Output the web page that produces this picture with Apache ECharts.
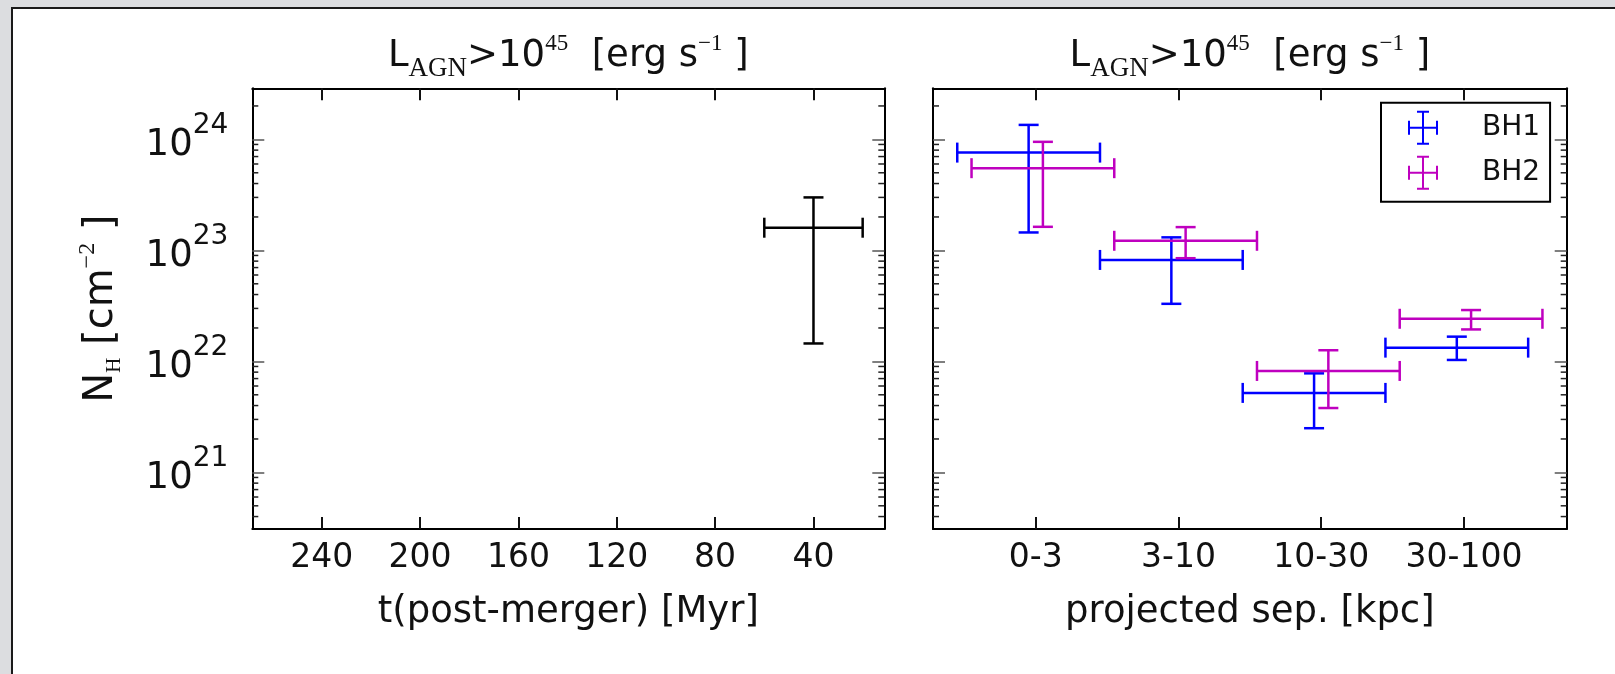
<!DOCTYPE html>
<html>
<head>
<meta charset="utf-8">
<script src="https://cdn.jsdelivr.net/npm/echarts@6/dist/echarts.min.js"></script>
<style>
html, body { margin: 0; padding: 0; background: #dcdde0; }
#chart { width: 1615px; height: 674px; }
</style>
</head>
<body>
<div id="chart"></div>
<script>
// ---------------- data ----------------
const sepCategories = ['0-3', '3-10', '10-30', '30-100'];
const sepTickPositions = [0, 1, 2, 3];
const timeTicks = [40, 80, 120, 160, 200, 240];
const nhMajorTicks = [1e21, 1e22, 1e23, 1e24];
const nhMinorTicks = [
  4e20, 5e20, 6e20, 7e20, 8e20, 9e20,
  2e21, 3e21, 4e21, 5e21, 6e21, 7e21, 8e21, 9e21,
  2e22, 3e22, 4e22, 5e22, 6e22, 7e22, 8e22, 9e22,
  2e23, 3e23, 4e23, 5e23, 6e23, 7e23, 8e23, 9e23,
  2e24
];

// left panel (time after merger)
const allT = [40];
const allTErr = [20];
const allNH = [1.6e23];
const allNHLow = [1.45e22];
const allNHHigh = [3.0e23];

// right panel (projected separation bins)
const bh1X = [-0.05, 0.95, 1.95, 2.95];
const bh1XErr = [0.5, 0.5, 0.5, 0.5];
const bh1NH = [7.6e23, 8.2e22, 5.2e21, 1.33e22];
const bh1NHLow = [1.45e23, 3.3e22, 2.5e21, 1.03e22];
const bh1NHHigh = [1.35e24, 1.31e23, 7.8e21, 1.67e22];

const bh2X = [0.05, 1.05, 2.05, 3.05];
const bh2XErr = [0.5, 0.5, 0.5, 0.5];
const bh2NH = [5.5e23, 1.22e23, 8.2e21, 2.42e22];
const bh2NHLow = [1.63e23, 8.5e22, 3.8e21, 1.94e22];
const bh2NHHigh = [9.5e23, 1.62e23, 1.26e22, 2.9e22];

// axis ranges
const tMin = 11.2, tMax = 268.2;
const sepMin = -0.72, sepMax = 3.72;
const nhMin = Math.pow(10, 20.49), nhMax = Math.pow(10, 24.46);

// ---------------- styling ----------------
const SANS = 'DejaVu Sans';
const SERIF = 'Liberation Serif';
const TXT = '#111';
const C_BH1 = '#0000ff';
const C_BH2 = '#bf00bf';
const C_ALL = '#000000';

function rows(x, xerr, y, ylo, yhi) {
  return x.map((v, i) => [v, y[i], v - xerr[i], v + xerr[i], ylo[i], yhi[i]]);
}

function errorBarRenderer(color) {
  return function (params, api) {
    const x = api.value(0), y = api.value(1);
    const xl = api.value(2), xh = api.value(3), yl = api.value(4), yh = api.value(5);
    const c = api.coord([x, y]);
    const pL = api.coord([xl, y]);
    const pR = api.coord([xh, y]);
    const pT = api.coord([x, yh]);
    const pB = api.coord([x, yl]);
    const cap = 10;
    const ln = (x1, y1, x2, y2) => ({
      type: 'line', shape: { x1, y1, x2, y2 },
      style: { stroke: color, lineWidth: 2.5, fill: null }
    });
    return {
      type: 'group',
      children: [
        ln(pL[0], c[1], pR[0], c[1]),
        ln(pL[0], c[1] - cap, pL[0], c[1] + cap),
        ln(pR[0], c[1] - cap, pR[0], c[1] + cap),
        ln(c[0], pT[1], c[0], pB[1]),
        ln(c[0] - cap, pT[1], c[0] + cap, pT[1]),
        ln(c[0] - cap, pB[1], c[0] + cap, pB[1])
      ]
    };
  };
}

function minorTickRenderer(params, api) {
  const cs = params.coordSys;
  const y = api.coord([api.value(0), api.value(1)])[1];
  const len = 6;
  const st = () => ({ stroke: '#222', lineWidth: 1.5 });
  return {
    type: 'group',
    children: [
      { type: 'line', shape: { x1: cs.x, y1: y, x2: cs.x + len, y2: y }, style: st() },
      { type: 'line', shape: { x1: cs.x + cs.width - len, y1: y, x2: cs.x + cs.width, y2: y }, style: st() }
    ]
  };
}

const axisLineStyle = { onZero: false, lineStyle: { color: '#000', width: 2 } };

function xAxisCfg(grid, pos, min, max, inverse, ticks, labels, name, formatter) {
  return {
    type: 'value', gridIndex: grid, position: pos, min, max, inverse,
    splitLine: { show: false },
    axisLine: axisLineStyle,
    axisTick: { show: true, inside: true, length: 12, customValues: ticks, lineStyle: { color: '#111', width: 2 } },
    axisLabel: labels ? {
      show: true, customValues: ticks, formatter, margin: 13,
      fontSize: 33, lineHeight: 33, fontFamily: SANS, color: TXT
    } : { show: false },
    name: name || '', nameLocation: 'middle', nameGap: 65,
    nameTextStyle: { fontSize: 37, lineHeight: 37, fontFamily: SANS, color: TXT }
  };
}

function yAxisCfg(grid, pos, labels, withName) {
  const cfg = {
    type: 'log', logBase: 10, gridIndex: grid, position: pos, min: nhMin, max: nhMax,
    splitLine: { show: false },
    axisLine: axisLineStyle,
    axisTick: { show: true, inside: true, length: 12, customValues: nhMajorTicks, lineStyle: { color: '#555', width: 1.5 } },
    axisLabel: labels ? {
      show: true, customValues: nhMajorTicks, margin: 24, interval: 0, hideOverlap: false,
      formatter: function (v) {
        const lg = Math.log10(v);
        const e = Math.round(lg);
        if (Math.abs(lg - e) > 1e-6) return '';
        return '{b|10}{s|' + e + '}';
      },
      rich: {
        b: { fontSize: 37, lineHeight: 37, fontFamily: SANS, color: TXT, verticalAlign: 'middle', padding: [12, 0, 0, 0] },
        s: { fontSize: 28, lineHeight: 28, fontFamily: SANS, color: TXT, verticalAlign: 'middle', padding: [0, 0, 28, 0] }
      }
    } : { show: false }
  };
  if (withName) {
    cfg.name = '{m|N}{sub|H}{m| [cm}{sup|\u22122}{m| ]}';
    cfg.nameLocation = 'middle';
    cfg.nameRotate = 90;
    cfg.nameGap = 131;
    cfg.nameTextStyle = {
      rich: {
        m: { fontSize: 40, lineHeight: 40, fontFamily: SANS, color: TXT, verticalAlign: 'middle' },
        sub: { fontSize: 21, lineHeight: 21, fontFamily: SERIF, color: TXT, verticalAlign: 'middle', padding: [26, 0, 0, 0] },
        sup: { fontSize: 24, lineHeight: 24, fontFamily: SERIF, color: TXT, verticalAlign: 'middle', padding: [0, 0, 28, 0] }
      }
    };
  }
  return cfg;
}

const titleRich = {
  m: { fontSize: 37, lineHeight: 37, fontFamily: SANS, fontWeight: 'normal', color: TXT, verticalAlign: 'middle' },
  sub: { fontSize: 27, lineHeight: 27, fontFamily: SERIF, fontWeight: 'normal', color: TXT, verticalAlign: 'middle', padding: [24, 0, 0, 0] },
  sup: { fontSize: 23, lineHeight: 23, fontFamily: SERIF, fontWeight: 'normal', color: TXT, verticalAlign: 'middle', padding: [0, 0, 26, 0] }
};
const titleText = '{m|L}{sub|AGN}{m|>10}{sup|45}{m|  [erg s}{sup|\u22121}{m| ]}';

const errIcon = 'path://M0,16h30v2h-30z M0,10h2v14h-2z M28,10h2v14h-2z M14,0h2v34h-2z M9,0h12v2h-12z M9,32h12v2h-12z';

const sepFormatter = v => sepCategories[sepTickPositions.indexOf(Math.round(v))] || '';

const option = {
  backgroundColor: '#dcdde0',
  animation: false,
  graphic: [{
    type: 'rect', z: -100, silent: true,
    shape: { x: 12, y: 8, width: 1700, height: 800 },
    style: { fill: '#ffffff', stroke: '#1a1a1a', lineWidth: 2 }
  }],
  title: [
    { text: titleText, left: 568.3, top: 38, textAlign: 'center', padding: 0, textStyle: { fontWeight: 'normal', rich: titleRich } },
    { text: titleText, left: 1249.9, top: 38, textAlign: 'center', padding: 0, textStyle: { fontWeight: 'normal', rich: titleRich } }
  ],
  legend: {
    orient: 'vertical', left: 1381, top: 102.7,
    padding: [8, 10, 12, 27], itemWidth: 30, itemHeight: 34, itemGap: 11,
    borderColor: '#000', borderWidth: 2, backgroundColor: '#fff',
    selectedMode: false,
    data: [{ name: 'BH1', icon: errIcon }, { name: 'BH2', icon: errIcon }],
    itemStyle: { borderWidth: 0 },
    formatter: '{t|{name}}',
    textStyle: { rich: { t: { fontSize: 28, lineHeight: 34, fontFamily: SANS, color: TXT, padding: [0, 0, 0, 39] } } }
  },
  grid: [
    { left: 252.3, top: 88.3, width: 632, height: 440.7, containLabel: false },
    { left: 933, top: 88.3, width: 633.7, height: 440.7, containLabel: false }
  ],
  xAxis: [
    xAxisCfg(0, 'bottom', tMin, tMax, true, timeTicks, true, 't(post-merger) [Myr]', v => String(v)),
    xAxisCfg(0, 'top', tMin, tMax, true, timeTicks, false),
    xAxisCfg(1, 'bottom', sepMin, sepMax, false, sepTickPositions, true, 'projected sep. [kpc]', sepFormatter),
    xAxisCfg(1, 'top', sepMin, sepMax, false, sepTickPositions, false)
  ],
  yAxis: [
    yAxisCfg(0, 'left', true, true),
    yAxisCfg(0, 'right', false, false),
    yAxisCfg(1, 'left', false, false),
    yAxisCfg(1, 'right', false, false)
  ],
  series: [
    {
      type: 'custom', name: 'minor-left', xAxisIndex: 0, yAxisIndex: 0, silent: true,
      data: nhMinorTicks.map(v => [tMin, v]), encode: { x: 0, y: 1 },
      renderItem: minorTickRenderer
    },
    {
      type: 'custom', name: 'minor-right', xAxisIndex: 2, yAxisIndex: 2, silent: true,
      data: nhMinorTicks.map(v => [sepMin, v]), encode: { x: 0, y: 1 },
      renderItem: minorTickRenderer
    },
    {
      type: 'custom', name: 'all', xAxisIndex: 0, yAxisIndex: 0,
      itemStyle: { color: C_ALL },
      data: rows(allT, allTErr, allNH, allNHLow, allNHHigh),
      encode: { x: [0, 2, 3], y: [1, 4, 5] },
      renderItem: errorBarRenderer(C_ALL), z: 5
    },
    {
      type: 'custom', name: 'BH1', xAxisIndex: 2, yAxisIndex: 2,
      itemStyle: { color: C_BH1 }, color: C_BH1,
      data: rows(bh1X, bh1XErr, bh1NH, bh1NHLow, bh1NHHigh),
      encode: { x: [0, 2, 3], y: [1, 4, 5] },
      renderItem: errorBarRenderer(C_BH1), z: 5
    },
    {
      type: 'custom', name: 'BH2', xAxisIndex: 2, yAxisIndex: 2,
      itemStyle: { color: C_BH2 }, color: C_BH2,
      data: rows(bh2X, bh2XErr, bh2NH, bh2NHLow, bh2NHHigh),
      encode: { x: [0, 2, 3], y: [1, 4, 5] },
      renderItem: errorBarRenderer(C_BH2), z: 5
    }
  ]
};

const chart = echarts.init(document.getElementById('chart'), null, { renderer: 'canvas' });
chart.setOption(option);
</script>
</body>
</html>
